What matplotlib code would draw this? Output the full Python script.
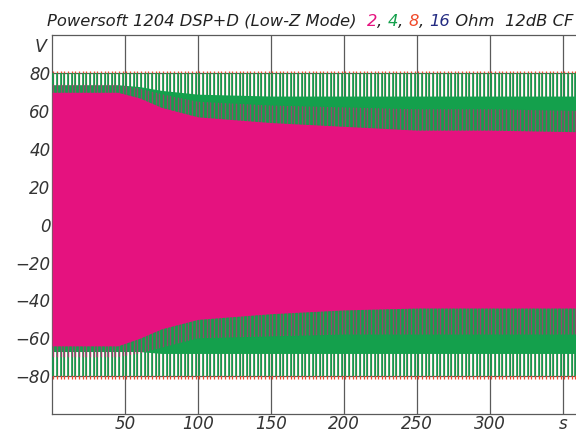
import numpy as np
import matplotlib.pyplot as plt

# envelope knots in seconds
t_knots = [0, 45, 60, 75, 100, 150, 200, 250, 300, 370]

# 2 Ohm (magenta): continuous level and burst peaks
ohm2_top = [70, 70, 67, 62, 57, 54, 52, 50, 50, 49]
ohm2_bot = [-64, -64, -60, -55, -50, -47, -45, -44, -44, -44]
ohm2_peak_top = [74, 74, 72, 69, 65, 63, 62, 61, 61, 60]
ohm2_peak_bot = [-70, -70, -68, -65, -60, -59, -58, -58, -58, -58]

# 4 Ohm (green)
ohm4_top = [74, 74, 73, 71, 69, 68, 68, 68, 68, 68]
ohm4_bot = [-67, -67, -67, -68, -68, -68, -68, -68, -68, -68]
ohm4_peak = 80

# 8 / 16 Ohm burst peaks
ohm8_peak = 81.5
ohm16_peak = 79

burst_period = 2.5
burst_start = 1.0

yticks = [-80, -60, -40, -20, 0, 20, 40, 60, 80]
xticks = [50, 100, 150, 200, 250, 300, 350]
xticklabels = ["50", "100", "150", "200", "250", "300", "s"]

MAG = "#e5127f"
GRN = "#14a04c"
RED = "#f04a2a"
NAVY = "#232b82"
GRID = "#5a5a5a"

fig = plt.figure(figsize=(5.76, 4.33), dpi=100)
ax = fig.add_axes([52 / 576, 1 - 414 / 433, 540 / 576, 378.5 / 433])
ax.set_xlim(0, 370)
ax.set_ylim(-100, 100)

bursts = np.arange(burst_start, 370, burst_period)

# 8 and 16 Ohm sit mostly underneath the 4 Ohm bursts
ax.vlines(bursts, -ohm8_peak, ohm8_peak, color=RED, lw=0.9, zorder=2)
ax.vlines(bursts, -ohm16_peak, ohm16_peak, color=NAVY, lw=0.5, zorder=2.1)

# 4 Ohm
ax.fill_between(t_knots, ohm4_bot, ohm4_top, color=GRN, lw=0, zorder=3)
ax.vlines(bursts, -ohm4_peak, ohm4_peak, color=GRN, lw=1.2, zorder=3.1)

# 2 Ohm: bursts clipped to their peak envelope, then the continuous level
clip = ax.fill_between(t_knots, ohm2_peak_bot, ohm2_peak_top, color="none", lw=0)
teeth = ax.vlines(bursts, -100, 100, color=MAG, lw=1.0, alpha=0.6, zorder=4)
teeth.set_clip_path(clip.get_paths()[0], transform=ax.transData)
ax.fill_between(t_knots, ohm2_bot, ohm2_top, color=MAG, lw=0, zorder=4.1)

ax.set_yticks(yticks)
ax.set_xticks(xticks)
ax.set_xticklabels(xticklabels)
ax.grid(True, color=GRID, lw=0.9, zorder=1)
ax.set_axisbelow(True)
ax.tick_params(length=0, labelsize=12, pad=1, labelcolor="#333333")
for lab in ax.get_xticklabels() + ax.get_yticklabels():
    lab.set_fontstyle("italic")
for s in ax.spines.values():
    s.set_color(GRID)
    s.set_linewidth(0.9)

ax.text(-4, 94, "V", ha="right", va="center", fontsize=12.5, style="italic", color="#333333")

# title with coloured load values
parts = [("Powersoft 1204 DSP+D (Low-Z Mode)  ", "#222222"), ("2", MAG), (", ", "#222222"),
         ("4", GRN), (", ", "#222222"), ("8", RED), (", ", "#222222"), ("16", NAVY),
         (" Ohm  12dB CF", "#222222")]
renderer = fig.canvas.get_renderer()
x = 47 / 576
for txt, col in parts:
    t = fig.text(x, 1 - 26 / 433, txt, color=col, fontsize=11.8, style="italic", va="baseline")
    bb = t.get_window_extent(renderer)
    x += bb.width / fig.bbox.width

fig.savefig("out.png", dpi=100)
